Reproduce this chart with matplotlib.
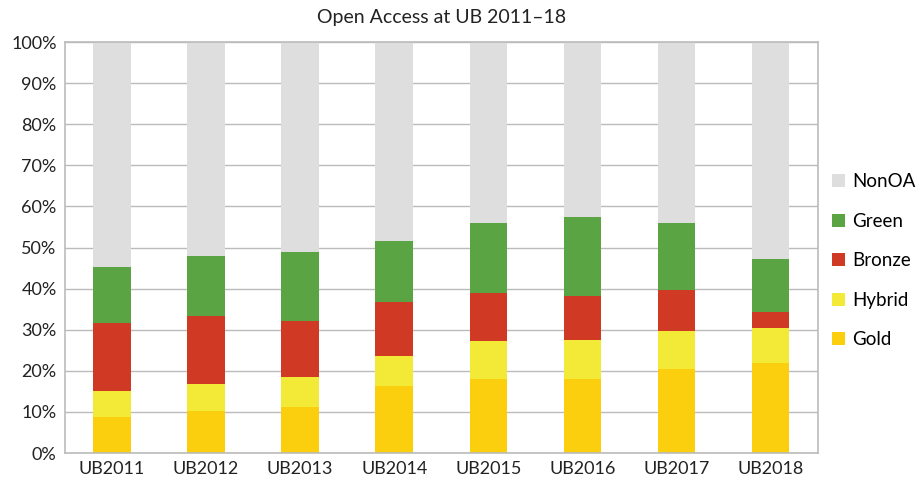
import matplotlib.pyplot as plt
import numpy as np
from matplotlib.ticker import PercentFormatter

plt.rcParams['font.family'] = ['Lato', 'DejaVu Sans']

years = ["UB2011", "UB2012", "UB2013", "UB2014", "UB2015", "UB2016", "UB2017", "UB2018"]
gold = [8.8, 10.2, 11.3, 16.3, 18.0, 18.0, 20.4, 22.0]
hybrid = [6.3, 6.6, 7.3, 7.2, 9.2, 9.5, 9.4, 8.5]
bronze = [16.5, 16.5, 13.6, 13.3, 11.7, 10.8, 9.9, 3.7]
green = [13.6, 14.7, 16.8, 14.8, 17.1, 19.1, 16.3, 13.0]
nonoa = [100 - g - h - b - gr for g, h, b, gr in zip(gold, hybrid, bronze, green)]

series = [("Gold", gold, "#FBCF0E"),
          ("Hybrid", hybrid, "#F2EA36"),
          ("Bronze", bronze, "#D03A25"),
          ("Green", green, "#5BA444"),
          ("NonOA", nonoa, "#DEDEDE")]

fig = plt.figure(figsize=(9.19, 4.83), dpi=100)
ax = fig.add_axes([0.0707, 0.062, 0.819, 0.851])

x = np.arange(len(years))
bottom = np.zeros(len(years))
handles = []
for name, vals, col in series:
    h = ax.bar(x, vals, 0.40, bottom=bottom, color=col, label=name, zorder=2)
    handles.append(h)
    bottom += np.array(vals)

ax.set_xlim(-0.5, len(years) - 0.5)
ax.set_ylim(0, 100)
ax.set_yticks(np.arange(0, 101, 10))
ax.yaxis.set_major_formatter(PercentFormatter(decimals=0))
ax.set_xticks(x)
ax.set_xticklabels(years)
ax.tick_params(length=0, labelsize=13, colors="#222222", pad=6)
ax.grid(axis="y", color="#BBBBBB", linewidth=1, zorder=0)
for s in ax.spines.values():
    s.set_color("#BBBBBB")
    s.set_linewidth(1.2)

ax.set_title("Open Access at UB 2011\u201318", fontsize=14, color="#222222", pad=14)

fig.legend(handles[::-1], [s[0] for s in series][::-1],
           loc="center left", bbox_to_anchor=(0.905, 0.46),
           frameon=False, fontsize=13.5, handlelength=0.7, handleheight=0.7,
           handletextpad=0.4, labelspacing=1.2, borderpad=0, borderaxespad=0)

fig.savefig("out.png", dpi=100)
